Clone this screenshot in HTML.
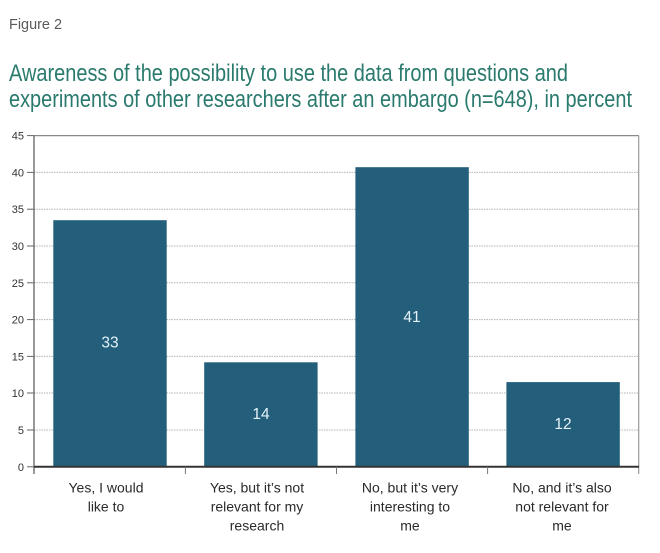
<!DOCTYPE html>
<html>
<head>
<meta charset="utf-8">
<style>
  html, body { margin: 0; padding: 0; background: #ffffff; }
  svg { display: block; }
</style>
</head>
<body>
<svg width="660" height="553" viewBox="0 0 660 553" xmlns="http://www.w3.org/2000/svg" font-family="'Liberation Sans', Arial, sans-serif">
  <rect x="0" y="0" width="660" height="553" fill="#ffffff"/>

  <!-- Figure label -->
  <text x="9" y="29" font-size="15" fill="#5a5a5a" textLength="53" lengthAdjust="spacingAndGlyphs">Figure 2</text>

  <!-- Title -->
  <text x="9" y="81" font-size="24" fill="#2a7a6e" textLength="559" lengthAdjust="spacingAndGlyphs">Awareness of the possibility to use the data from questions and</text>
  <text x="9" y="107" font-size="24" fill="#2a7a6e" textLength="623" lengthAdjust="spacingAndGlyphs">experiments of other researchers after an embargo (n=648), in percent</text>

  <!-- Gridlines (dotted) -->
  <g stroke="#b4b4b4" stroke-width="1" stroke-dasharray="1.5,1">
    <line x1="34" y1="430" x2="639" y2="430"/>
    <line x1="34" y1="393" x2="639" y2="393"/>
    <line x1="34" y1="356.4" x2="639" y2="356.4"/>
    <line x1="34" y1="319.6" x2="639" y2="319.6"/>
    <line x1="34" y1="282.8" x2="639" y2="282.8"/>
    <line x1="34" y1="246" x2="639" y2="246"/>
    <line x1="34" y1="209.2" x2="639" y2="209.2"/>
    <line x1="34" y1="172.4" x2="639" y2="172.4"/>
  </g>

  <!-- Top and right border -->
  <line x1="34" y1="135.6" x2="639" y2="135.6" stroke="#8a8a8a" stroke-width="1.2"/>
  <line x1="638.7" y1="135.6" x2="638.7" y2="474" stroke="#9a9a9a" stroke-width="1.2"/>

  <!-- Bars -->
  <g fill="#235f7b">
    <rect x="53.3" y="220.2" width="113.4" height="246.6"/>
    <rect x="204.2" y="362.3" width="113.4" height="104.5"/>
    <rect x="355.4" y="167.2" width="113.4" height="299.6"/>
    <rect x="506.4" y="382.1" width="113.4" height="84.7"/>
  </g>

  <!-- Left axis -->
  <line x1="34" y1="135.6" x2="34" y2="474" stroke="#555555" stroke-width="1.2"/>
  <!-- Zero line -->
  <line x1="34" y1="466.8" x2="639" y2="466.8" stroke="#333333" stroke-width="2"/>

  <!-- Y ticks -->
  <g stroke="#666666" stroke-width="1">
    <line x1="27" y1="466.8" x2="34" y2="466.8"/>
    <line x1="27" y1="430" x2="34" y2="430"/>
    <line x1="27" y1="393" x2="34" y2="393"/>
    <line x1="27" y1="356.4" x2="34" y2="356.4"/>
    <line x1="27" y1="319.6" x2="34" y2="319.6"/>
    <line x1="27" y1="282.8" x2="34" y2="282.8"/>
    <line x1="27" y1="246" x2="34" y2="246"/>
    <line x1="27" y1="209.2" x2="34" y2="209.2"/>
    <line x1="27" y1="172.4" x2="34" y2="172.4"/>
    <line x1="27" y1="135.6" x2="34" y2="135.6"/>
  </g>
  <!-- X category ticks -->
  <g stroke="#777777" stroke-width="1">
    <line x1="185.4" y1="466.8" x2="185.4" y2="474"/>
    <line x1="336.5" y1="466.8" x2="336.5" y2="474"/>
    <line x1="487.6" y1="466.8" x2="487.6" y2="474"/>
  </g>

  <!-- Y tick labels -->
  <g font-size="11" fill="#333333" text-anchor="end">
    <text x="24" y="470.8">0</text>
    <text x="24" y="434">5</text>
    <text x="24" y="397">10</text>
    <text x="24" y="360.4">15</text>
    <text x="24" y="323.6">20</text>
    <text x="24" y="286.8">25</text>
    <text x="24" y="250">30</text>
    <text x="24" y="213.2">35</text>
    <text x="24" y="176.4">40</text>
    <text x="24" y="139.6">45</text>
  </g>

  <!-- Value labels -->
  <g font-size="15.5" fill="#e4f2f8" text-anchor="middle">
    <text x="110" y="347.5">33</text>
    <text x="261" y="418.8">14</text>
    <text x="412" y="322">41</text>
    <text x="563" y="428.8">12</text>
  </g>

  <!-- Category labels -->
  <g font-size="14" fill="#2a2a2a" text-anchor="middle">
    <text x="106" y="492.7">Yes, I would</text>
    <text x="106" y="511.7">like to</text>

    <text x="257" y="492.7">Yes, but it’s not</text>
    <text x="257" y="511.7">relevant for my</text>
    <text x="257" y="530.7">research</text>

    <text x="410" y="492.7">No, but it’s very</text>
    <text x="410" y="511.7">interesting to</text>
    <text x="410" y="530.7">me</text>

    <text x="562" y="492.7">No, and it’s also</text>
    <text x="562" y="511.7">not relevant for</text>
    <text x="562" y="530.7">me</text>
  </g>
</svg>
</body>
</html>
